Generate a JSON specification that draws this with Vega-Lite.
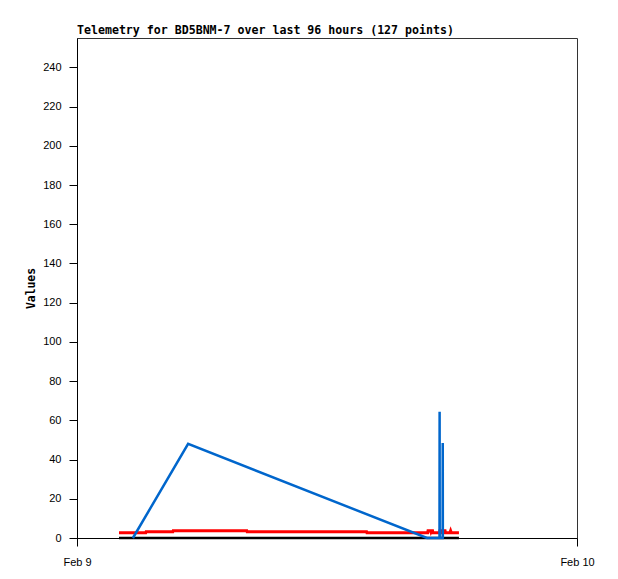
{
  "$schema": "https://vega.github.io/schema/vega-lite/v6.json",
  "width": 500,
  "height": 500,
  "autosize": "none",
  "padding": {"left": 77, "top": 38, "right": 41, "bottom": 41},
  "background": "white",
  "title": {
    "text": "Telemetry for BD5BNM-7 over last 96 hours (127 points)",
    "anchor": "start",
    "frame": "group",
    "font": "DejaVu Sans Mono",
    "fontSize": 11.6,
    "fontWeight": "bold",
    "color": "#000",
    "baseline": "alphabetic",
    "offset": -8
  },
  "config": {
    "view": {"stroke": "#333", "strokeWidth": 1},
    "axis": {
      "grid": false,
      "domainColor": "#000",
      "tickColor": "#000",
      "tickSize": 8,
      "labelFont": "Liberation Sans",
      "labelFontSize": 11,
      "labelColor": "#000",
      "titleFont": "DejaVu Sans Mono",
      "titleFontSize": 11.4,
      "titleFontWeight": "bold",
      "titleColor": "#000"
    }
  },
  "datasets": {
    "black": [
      {"t": "2024-02-09T02:01:00", "v": 0},
      {"t": "2024-02-09T18:20:00", "v": 0}
    ],
    "red": [
      {"t": "2024-02-09T02:01:00", "v": 2.7},
      {"t": "2024-02-09T03:18:00", "v": 2.7},
      {"t": "2024-02-09T03:19:00", "v": 3.2},
      {"t": "2024-02-09T04:36:00", "v": 3.2},
      {"t": "2024-02-09T04:37:00", "v": 3.7},
      {"t": "2024-02-09T08:09:00", "v": 3.7},
      {"t": "2024-02-09T08:10:00", "v": 3.2},
      {"t": "2024-02-09T13:54:00", "v": 3.2},
      {"t": "2024-02-09T13:55:00", "v": 2.7},
      {"t": "2024-02-09T16:50:00", "v": 2.7},
      {"t": "2024-02-09T16:51:00", "v": 3.7},
      {"t": "2024-02-09T16:58:00", "v": 3.7},
      {"t": "2024-02-09T16:59:00", "v": 3.2},
      {"t": "2024-02-09T17:00:00", "v": 3.7},
      {"t": "2024-02-09T17:04:00", "v": 3.7},
      {"t": "2024-02-09T17:05:00", "v": 2.7},
      {"t": "2024-02-09T17:24:00", "v": 2.7},
      {"t": "2024-02-09T17:25:00", "v": 3.7},
      {"t": "2024-02-09T17:30:00", "v": 3.7},
      {"t": "2024-02-09T17:31:00", "v": 3.2},
      {"t": "2024-02-09T17:34:00", "v": 3.7},
      {"t": "2024-02-09T17:40:00", "v": 3.7},
      {"t": "2024-02-09T17:41:00", "v": 2.7},
      {"t": "2024-02-09T17:54:00", "v": 2.7},
      {"t": "2024-02-09T17:56:00", "v": 3.7},
      {"t": "2024-02-09T17:58:00", "v": 2.7},
      {"t": "2024-02-09T18:20:00", "v": 2.7}
    ],
    "blue": [
      {"t": "2024-02-09T02:41:00", "v": 0},
      {"t": "2024-02-09T05:20:00", "v": 48},
      {"t": "2024-02-09T16:48:00", "v": 0},
      {"t": "2024-02-09T17:24:00", "v": 0},
      {"t": "2024-02-09T17:24:20", "v": 64.4},
      {"t": "2024-02-09T17:24:40", "v": 0},
      {"t": "2024-02-09T17:33:00", "v": 0},
      {"t": "2024-02-09T17:33:20", "v": 48.5},
      {"t": "2024-02-09T17:33:40", "v": 0}
    ]
  },
  "encoding": {
    "x": {
      "field": "t",
      "type": "temporal",
      "title": null,
      "scale": {"domain": [{"year": 2024, "month": 2, "date": 9}, {"year": 2024, "month": 2, "date": 10}]},
      "axis": {
        "values": [{"year": 2024, "month": 2, "date": 9}, {"year": 2024, "month": 2, "date": 10}],
        "format": "%b %-d",
        "labelPadding": 10,
        "labelFlush": false
      }
    },
    "y": {
      "field": "v",
      "type": "quantitative",
      "title": "Values",
      "scale": {"domain": [0, 255], "nice": false},
      "axis": {
        "values": [0, 20, 40, 60, 80, 100, 120, 140, 160, 180, 200, 220, 240],
        "labelPadding": 8,
        "titlePadding": 6
      }
    }
  },
  "layer": [
    {"data": {"name": "black"}, "mark": {"type": "line", "color": "#000", "strokeWidth": 2.5, "interpolate": "linear"}},
    {"data": {"name": "red"}, "mark": {"type": "line", "color": "#ff0000", "strokeWidth": 3}},
    {"data": {"name": "blue"}, "mark": {"type": "line", "color": "#0066cc", "strokeWidth": 2.5}}
  ]
}
